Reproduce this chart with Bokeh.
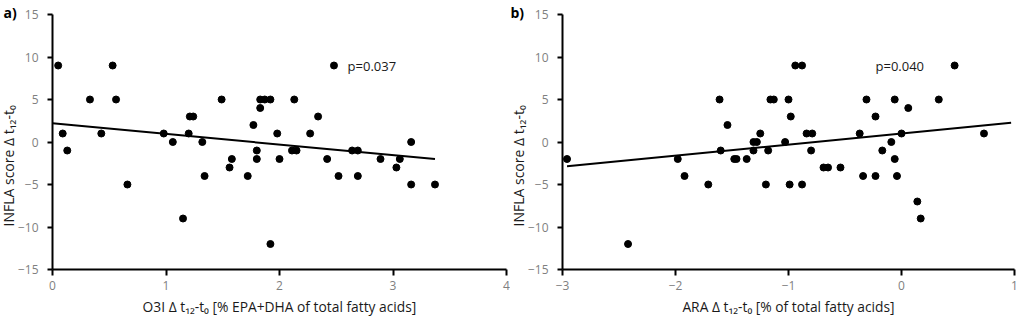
from bokeh.plotting import figure
from bokeh.layouts import row
from bokeh.models import FixedTicker, Label, Range1d, Title
from bokeh.embed import file_html
from bokeh.resources import INLINE

# ---- data ----
a_x = [0.05, 0.09, 0.13, 0.33, 0.43, 0.53, 0.56, 0.66, 0.98, 1.06, 1.15, 1.20, 1.21, 1.24,
       1.32, 1.34, 1.49, 1.56, 1.58, 1.72, 1.77, 1.80, 1.80, 1.83, 1.83, 1.87, 1.92, 1.92,
       1.98, 2.00, 2.11, 2.13, 2.15, 2.27, 2.34, 2.42, 2.48, 2.52, 2.64, 2.69, 2.69, 2.89,
       3.03, 3.06, 3.16, 3.16, 3.37]
a_y = [9, 1, -1, 5, 1, 9, 5, -5, 1, 0, -9, 1, 3, 3,
       0, -4, 5, -3, -2, -4, 2, -1, -2, 5, 4, 5, 5, -12,
       1, -2, -1, 5, -1, 1, 3, -2, 9, -4, -1, -1, -4, -2,
       -3, -2, 0, -5, -5]

b_x = [-2.96, -2.42, -1.98, -1.92, -1.71, -1.61, -1.60, -1.54, -1.48, -1.46, -1.37, -1.31,
       -1.31, -1.28, -1.25, -1.20, -1.18, -1.16, -1.13, -1.03, -1.00, -0.99, -0.98, -0.94,
       -0.88, -0.88, -0.84, -0.80, -0.79, -0.69, -0.65, -0.54, -0.37, -0.34, -0.31, -0.23,
       -0.23, -0.17, -0.09, -0.06, -0.06, -0.04, 0.00, 0.06, 0.14, 0.17, 0.33, 0.47, 0.73]
b_y = [-2, -12, -2, -4, -5, 5, -1, 2, -2, -2, -2, -1,
       0, 0, 1, -5, -1, 5, 5, 0, 5, -5, 3, 9,
       9, -5, 1, -1, 1, -3, -3, -3, 1, -4, 5, 3,
       -4, -1, 0, 5, -2, -4, 1, 4, -7, -9, 5, 9, 1]

# regression lines
a_fit_x = [0.0, 3.37]
a_fit_intercept, a_fit_slope = 2.2, -1.25
b_fit_x = [-2.96, 0.97]
b_fit_intercept, b_fit_slope = 1.0, 1.30

a_xticks = [0, 1, 2, 3, 4]
b_xticks = [-3, -2, -1, 0, 1]
yticks = [-15, -10, -5, 0, 5, 10, 15]

a_p_text = "p=0.037"
b_p_text = "p=0.040"
y_label = "INFLA score \u0394 t\u2081\u2082-t\u2080"
a_x_label = "O3I \u0394 t\u2081\u2082-t\u2080 [% EPA+DHA of total fatty acids]"
b_x_label = "ARA \u0394 t\u2081\u2082-t\u2080 [% of total fatty acids]"

FONT = "Open Sans"
FRAME_H = 255


def make_plot(xs, ys, fit_x, b0, b1, xticks, ptext, ptext_x, xlabel, panel, panel_dx,
              frame_w, border_l, border_r):
    p = figure(output_backend="svg", toolbar_location=None,
               frame_width=frame_w, frame_height=FRAME_H,
               min_border_left=border_l, min_border_right=border_r,
               min_border_top=14, min_border_bottom=52,
               x_range=Range1d(xticks[0], xticks[-1]), y_range=Range1d(-15, 15))
    p.outline_line_color = None
    p.xgrid.visible = False
    p.ygrid.visible = False
    p.background_fill_color = "white"
    p.border_fill_color = "white"

    for ax in (p.xaxis[0], p.yaxis[0]):
        ax.axis_line_width = 2
        ax.axis_line_color = "black"
        ax.major_tick_line_width = 2
        ax.major_tick_line_color = "black"
        ax.major_tick_in = 0
        ax.major_tick_out = 5
        ax.minor_tick_line_color = None
        ax.major_label_text_color = "#7f7f7f"
        ax.major_label_text_font = FONT
        ax.major_label_text_font_size = "12px"
        ax.axis_label_text_font = FONT
        ax.axis_label_text_font_size = "13.8px"
        ax.axis_label_text_font_style = "normal"
        ax.axis_label_text_color = "#1a1a1a"
    p.xaxis[0].ticker = FixedTicker(ticks=xticks)
    p.yaxis[0].ticker = FixedTicker(ticks=yticks)
    p.xaxis[0].axis_label = xlabel
    p.xaxis[0].major_tick_out = 6
    p.xaxis[0].major_label_standoff = 5
    p.yaxis[0].major_label_standoff = 9
    p.xaxis[0].axis_label_standoff = 4

    # y-axis title, starting a little above the frame bottom as in the reference
    p.add_layout(Title(text=y_label, align="left", offset=43, standoff=-7,
                       text_font=FONT, text_font_size="14px", text_font_style="normal",
                       text_color="#1a1a1a"), "left")

    fy = [b0 + b1 * v for v in fit_x]
    p.line(fit_x, fy, line_color="black", line_width=2)
    p.scatter(xs, ys, size=7, marker="circle", fill_color="black", line_color="black")

    p.add_layout(Label(x=ptext_x, y=9, text=ptext, text_font=FONT, text_font_size="13px",
                       text_color="#1a1a1a", text_align="left", text_baseline="middle"))
    p.add_layout(Title(text=panel, align="left", offset=panel_dx, standoff=-14,
                       text_font=FONT, text_font_size="14px", text_font_style="bold",
                       text_color="black"), "above")
    return p


p1 = make_plot(a_x, a_y, a_fit_x, a_fit_intercept, a_fit_slope, a_xticks, a_p_text, 2.6,
               a_x_label, "a)", -49, 454, 52, 4)
p2 = make_plot(b_x, b_y, b_fit_x, b_fit_intercept, b_fit_slope, b_xticks, b_p_text, -0.23,
               b_x_label, "b)", -52, 452, 52, 10)

layout = row(p1, p2)
open("out.html", "w").write(file_html(layout, INLINE))
